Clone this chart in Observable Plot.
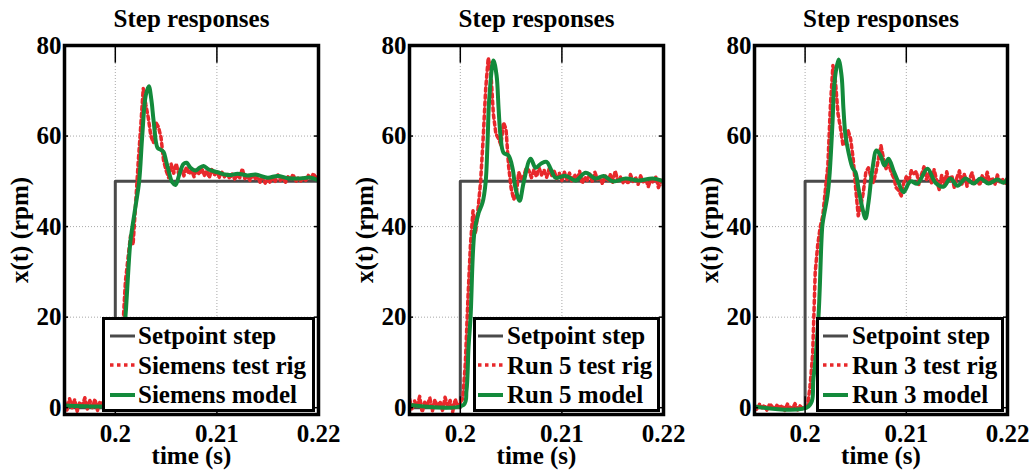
<!DOCTYPE html>
<html>
<head>
<meta charset="utf-8">
<script src="https://cdn.jsdelivr.net/npm/d3@7"></script>
<script src="https://cdn.jsdelivr.net/npm/@observablehq/plot@0.6"></script>
<style>
html, body { margin: 0; padding: 0; background: #fff; }
#chart { position: relative; width: 1031px; height: 472px; background: #fff; overflow: hidden;
  font-family: "Liberation Serif", serif; font-weight: bold; }
.panel { position: absolute; top: 0; }
.legend { position: absolute; box-sizing: border-box; border: 3px solid #000; background: #fff;
  font-family: "Liberation Serif", serif; font-weight: bold;
  font-size: 25px; line-height: 29.5px; color: #000; padding-top: 1px; }
.legend .row { display: flex; align-items: center; height: 29.5px; white-space: nowrap; }
.legend svg { flex: none; display: block; }
</style>
</head>
<body>
<div id="chart"></div>
<script>
// ---------------- data ----------------
const titleText = "Step responses";
const xLabel = "time (s)";
const yLabel = "x(t) (rpm)";
const xTicks = [0.2, 0.21, 0.22];
const xTickLabels = ["0.2", "0.21", "0.22"];
const yTicks = [0, 20, 40, 60, 80];
const xDomain = [0.195, 0.22];
const yDomain = [-1.5, 80];

// setpoint step
const setT = [0.195, 0.2, 0.2, 0.22];
const setX = [0, 0, 50, 50];

// test rig sample times (every 0.25 ms from 0.195 s to 0.22 s)
const tRig = d3.range(101).map(i => +(0.195 + i * 0.00025).toFixed(5));

const rig1 = [
  1.5,-0.5,2,0,1.8,-0.8,1.2,0.5,2.2,-0.3,1.6,0,1.9,-0.6,1.4,0.8,2,-0.4,1.3,0.2,1,
  3,9,18,28, 33,38,36,45, 54,62,70.5,67, 64,60,58.5,63, 62,59.7,54.6,52.4, 50.8,53.8,51.8,53.9,
  51.5,52.8,51.2,53.2, 51.6,52.5,51,52.8, 51.5,53,51.2,52.4, 50.8,52.6,51.4,52.2,
  50.8,52,51,51.8, 50.6,51.6,50.5,51.4, 50.8,52.8,50.6,51.2, 50.2,51.3,50.5,51.2, 49.8,50.9,49.6,50.6,
  49.7,51,50,51.4, 50.2,50.8,49.8,51, 50.3,51.6,49.9,50.7, 50.1,50.9,50.2,51.3, 50.4,51.8,50.5,51.2
];
const rig2 = [
  2,-0.5,1.5,0.2,2.5,-1,1.2,0.5,2.2,-0.8,1.8,0,1.4,-0.6,2.3,0.3,1.6,-0.9,1.9,0.1,1.2,
  2,10,24,36, 43.5,38.5,44,50, 59.5,70.5,77.3,74.5, 65,60.5,59.5,58, 63,61.5,53.5,48.5, 46,47,52,50.5,
  51.2,53,52.4,50.8, 52.6,51,53,51.4, 52.5,50.9,52.8,51.3, 52.2,50.6,51.8,50.2,
  52,50.4,51.8,49.8, 51.5,50.3,52.2,49.5, 51,50.2,51.6,49.9, 52,50.4,50.9,49.4, 51.3,50,51.6,49.8,
  52.3,50.1,51,49.6, 50.8,49.4,51.5,50, 50.9,49.3,51.2,49.9, 50.6,48.8,50.4,49.7, 51,48.6,50.2,49
];
const rig3 = [
  0.3,-0.5,0.8,0,0.6,-0.7,0.9,0.2,-0.4,0.7,0,0.5,-0.6,0.8,0.1,-0.3,0.9,-0.5,0.4,-0.2,0,
  0.5,5,12,30, 36,40,42.4,48, 53.5,66.7,75.6,72, 65,61.7,57.9,59, 61.2,59.4,55,48.4, 42.4,44.5,47.5,52,
  53,51,49.7,52, 55,57.9,55,52.8, 54.1,52,50.8,48.6, 48,46.8,49.7,51,
  50,52.4,51.7,52.2, 49.2,51.5,53.2,50.4, 51.8,49.6,52.6,50.2, 48.2,51.4,49,52.1, 49.8,51.3,48.5,50.8,
  52.3,49.4,51.7,48.9, 50.6,51.9,49.5,50.4, 49.1,51.2,50,52, 49.6,50.8,49.2,51.4, 49.9,50.5,49.3,50.4
];

// model responses
const model1T = [0.195,0.2,0.2003,0.2006,0.20085,0.20106,0.2013,0.2015,0.2020,0.20235,0.20265,0.2030,0.2033,0.20355,0.20377,0.20416,0.20445,0.20475,0.2050,0.20524,0.2056,0.20593,0.2063,0.2067,0.20702,0.2074,0.2079,0.2083,0.20869,0.2092,0.21007,0.2108,0.21135,0.21204,0.2130,0.21381,0.2150,0.21598,0.2170,0.21795,0.21923,0.2200];
const model1X = [0.5,0.5,1,8,16,22,31,37,44.6,50,60,69,71,68,63.4,57.4,57,56.5,54.5,52.4,49.8,49.2,51.5,53.8,54.1,53,52.4,53,53.4,52.6,52,51.5,51.4,51.7,51.3,51.5,50.8,51.2,50.7,50.6,50.8,50.2];
const model2T = [0.195,0.20032,0.20061,0.20081,0.20101,0.2014,0.2018,0.20219,0.20249,0.20268,0.20285,0.20327,0.20357,0.20377,0.20396,0.20426,0.20475,0.20515,0.20544,0.20584,0.20623,0.20692,0.20741,0.2080,0.2085,0.20889,0.20938,0.21037,0.21135,0.21234,0.21332,0.21411,0.2150,0.21628,0.21756,0.21894,0.2200];
const model2X = [0.6,0.6,3.8,13.3,20,39,43,45.3,49.7,58.5,68.3,76.7,73.4,66,60,56.3,55.7,52.8,48.4,45.7,49.7,55,53,54,54.3,52.8,50.8,51.2,50.2,51.9,50.6,51.2,50,50.6,50.2,50.6,50];
const model3T = [0.195,0.20034,0.20083,0.20132,0.20162,0.20172,0.20221,0.20241,0.20271,0.2029,0.2033,0.2036,0.20379,0.20399,0.20429,0.20468,0.20498,0.20528,0.20567,0.20597,0.20626,0.20666,0.20705,0.20745,0.20784,0.20824,0.20873,0.20923,0.20972,0.21041,0.2111,0.21209,0.21288,0.21367,0.21436,0.21506,0.21585,0.21664,0.21733,0.21812,0.21901,0.2196,0.2200];
const model3X = [0.3,0.3,6.6,20,37,40.5,46.8,51.2,63,71.8,76.9,73.4,66,60.1,56.4,53,52,48.4,44,41.8,45.3,52.8,56.8,55.7,53.5,55,52.4,49.7,47.6,50,49.5,52.8,49.7,48.8,50.6,49,50.6,49.5,50.6,49.5,50.4,49.7,50.6];

const legend1 = ["Setpoint step", "Siemens test rig", "Siemens model"];
const legend2 = ["Setpoint step", "Run 5 test rig", "Run 5 model"];
const legend3 = ["Setpoint step", "Run 3 test rig", "Run 3 model"];

// ---------------- styles ----------------
const FONT = '"Liberation Serif", serif';
const GRAY = "#4a4a4a", RED = "#e8282b", GREEN = "#138a3b", GRID = "#a8a8a8";
const seriesStyles = [
  {stroke: GRAY, width: 3, dash: null},
  {stroke: RED, width: 3.5, dash: "3.5,3.5"},
  {stroke: GREEN, width: 4, dash: null}
];

const panels = [
  {left: 0, width: 345, marginRight: 27, rig: rig1, mT: model1T, mX: model1X, labels: legend1, legLeft: 102, legWidth: 213, legPad: 5, legGap: 3},
  {left: 345, width: 345, marginRight: 27, rig: rig2, mT: model2T, mX: model2X, labels: legend2, legLeft: 473, legWidth: 187, legPad: 2, legGap: 4},
  {left: 690, width: 341, marginRight: 24, rig: rig3, mT: model3T, mX: model3X, labels: legend3, legLeft: 816, legWidth: 188, legPad: 4, legGap: 4}
];

const chart = document.getElementById("chart");

for (const p of panels) {
  const setData = setT.map((t, i) => ({t, v: setX[i]}));
  const rigData = tRig.map((t, i) => ({t, v: p.rig[i]}));
  const modelData = p.mT.map((t, i) => ({t, v: p.mX[i]}));
  const innerX = xTicks.filter(d => d > xDomain[0] && d < xDomain[1]);
  const innerY = yTicks.filter(d => d > yDomain[0] && d < yDomain[1]);
  const xr = (xDomain[1] - xDomain[0]) * 0.016;
  const yr = (yDomain[1] - yDomain[0]) * 0.012;

  const svg = Plot.plot({
    width: p.width,
    height: 472,
    marginTop: 45,
    marginBottom: 58,
    marginLeft: 64,
    marginRight: p.marginRight,
    style: {fontFamily: FONT, fontWeight: "bold", fontSize: "25px", background: "white", color: "black", overflow: "visible"},
    x: {domain: xDomain},
    y: {domain: yDomain},
    marks: [
      Plot.ruleX(innerX, {stroke: GRID, strokeWidth: 1, strokeDasharray: "1,2"}),
      Plot.ruleY(innerY.filter(d => d !== 0), {stroke: GRID, strokeWidth: 1, strokeDasharray: "1,2"}),
      Plot.line(setData, {x: "t", y: "v", stroke: GRAY, strokeWidth: 3, clip: true}),
      Plot.line(rigData, {x: "t", y: "v", stroke: RED, strokeWidth: 3.5, strokeDasharray: "3.5,3.5", clip: true}),
      Plot.line(modelData, {x: "t", y: "v", stroke: GREEN, strokeWidth: 4, curve: "catmull-rom", clip: true}),
      // inward tick marks
      Plot.ruleX(innerX, {y1: yDomain[0], y2: yDomain[0] + yr * 4, stroke: "black", strokeWidth: 1.5}),
      Plot.ruleX(innerX, {y1: yDomain[1] - yr * 4, y2: yDomain[1], stroke: "black", strokeWidth: 1.5}),
      Plot.ruleY(innerY, {x1: xDomain[0], x2: xDomain[0] + xr, stroke: "black", strokeWidth: 1.5}),
      Plot.ruleY(innerY, {x1: xDomain[1] - xr, x2: xDomain[1], stroke: "black", strokeWidth: 1.5}),
      Plot.frame({stroke: "black", strokeWidth: 3.5}),
      Plot.axisX({ticks: xTicks, tickSize: 0, tickPadding: 10, tickFormat: d => xTickLabels[xTicks.indexOf(d)],
        fontFamily: FONT, fontWeight: "bold",
        label: xLabel, labelAnchor: "center", labelOffset: 49, labelArrow: "none"}),
      Plot.axisY({ticks: yTicks, tickSize: 0, tickPadding: 3, fontFamily: FONT, fontWeight: "bold",
        label: yLabel, labelAnchor: "center", labelOffset: 54, labelArrow: "none"}),
      Plot.text([titleText], {text: d => d, frameAnchor: "top", dy: -19, lineAnchor: "bottom", fontFamily: FONT, fontWeight: "bold"})
    ]
  });
  const wrap = document.createElement("div");
  wrap.className = "panel";
  wrap.style.left = p.left + "px";
  wrap.appendChild(svg);
  chart.appendChild(wrap);

  // legend box
  const leg = document.createElement("div");
  leg.className = "legend";
  Object.assign(leg.style, {left: p.legLeft + "px", top: "317px", width: p.legWidth + "px", height: "95px", paddingLeft: p.legPad + "px"});
  p.labels.forEach((lab, i) => {
    const s = seriesStyles[i];
    const row = document.createElement("div");
    row.className = "row";
    row.innerHTML = `<svg width="25" height="8"><line x1="0" x2="25" y1="4" y2="4" stroke="${s.stroke}" stroke-width="${s.width}" ${s.dash ? `stroke-dasharray="${s.dash}"` : ""}/></svg><span style="margin-left:${p.legGap}px">${lab}</span>`;
    leg.appendChild(row);
  });
  chart.appendChild(leg);
}
</script>
</body>
</html>
